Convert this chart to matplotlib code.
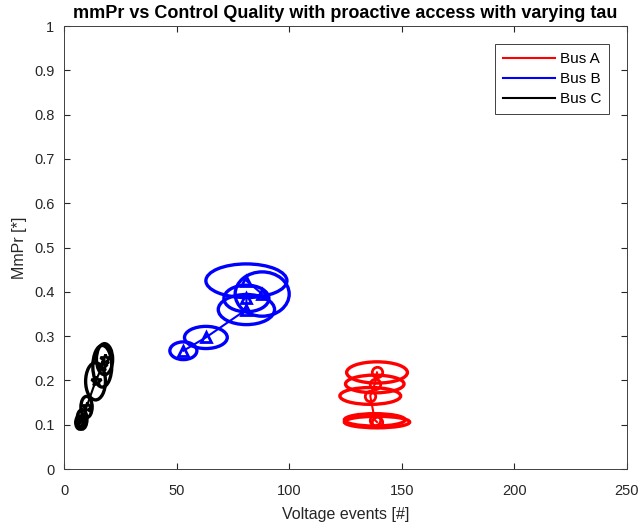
import numpy as np
import matplotlib.pyplot as plt
from matplotlib.patches import Ellipse
from matplotlib.lines import Line2D

plt.rcParams['font.family'] = ['Liberation Sans', 'DejaVu Sans']

# Bus A (red): mean voltage events, mean mmPr, and spread (half widths)
a_x = [139, 138, 136, 138, 139]
a_y = [0.106, 0.111, 0.165, 0.192, 0.218]
a_sx = [14.5, 13.5, 13.5, 13.0, 13.5]
a_sy = [0.013, 0.014, 0.019, 0.020, 0.024]

# Bus B (blue)
b_x = [53, 63, 81, 81, 88, 81]
b_y = [0.267, 0.297, 0.360, 0.385, 0.395, 0.425]
b_sx = [6.0, 9.5, 12.5, 10.0, 12.0, 18.0]
b_sy = [0.020, 0.025, 0.034, 0.030, 0.050, 0.038]

# Bus C (black)
c_x = [7, 8, 10, 14, 17, 18]
c_y = [0.105, 0.112, 0.140, 0.198, 0.232, 0.248]
c_sx = [1.8, 2.2, 2.5, 4.4, 4.2, 3.6]
c_sy = [0.015, 0.022, 0.024, 0.042, 0.047, 0.035]

series = [
    ("Bus A", a_x, a_y, a_sx, a_sy, "#ff0000", "o"),
    ("Bus B", b_x, b_y, b_sx, b_sy, "#0000ff", "^"),
    ("Bus C", c_x, c_y, c_sx, c_sy, "#000000", "*"),
]

fig = plt.figure(figsize=(6.42, 5.27), dpi=100)
ax = fig.add_axes([0.0997, 0.110, 0.8769, 0.8406])

handles = []
for name, xs, ys, sx, sy, col, mk in series:
    ax.plot(xs, ys, color=col, lw=1.5, marker=mk, ms=7.5, mfc="none", mew=2)
    for x, y, w, h in zip(xs, ys, sx, sy):
        ax.add_patch(Ellipse((x, y), 2 * w, 2 * h, fill=False, ec=col, lw=2.4))
    handles.append(Line2D([], [], color=col, lw=1.5, label=name))

ax.set_xlim(0, 250)
ax.set_ylim(0, 1)
ax.set_xticks(np.arange(0, 251, 50))
ax.set_yticks(np.round(np.arange(0, 1.01, 0.1), 1))
ax.set_yticklabels(["0", "0.1", "0.2", "0.3", "0.4", "0.5", "0.6", "0.7", "0.8", "0.9", "1"])
ax.tick_params(direction="in", labelsize=10.5, colors="#262626", length=4, top=True, right=True,
               labeltop=False, labelright=False)
ax.tick_params(axis="x", pad=11)
ax.tick_params(axis="y", pad=7)
for s in ax.spines.values():
    s.set_color("#404040")
    s.set_linewidth(0.7)

ax.set_xlabel("Voltage events [#]", fontsize=11.5, color="#262626", labelpad=6)
ax.set_ylabel("MmPr [*]", fontsize=11.5, color="#262626", labelpad=5)
ax.set_title("mmPr vs Control Quality with proactive access with varying tau",
             fontsize=13, fontweight="bold", pad=6)

leg = ax.legend(handles=handles, loc="upper right", fontsize=11, fancybox=False,
                edgecolor="#404040", framealpha=1, handlelength=3.4, handletextpad=0.3,
                labelspacing=0.4, borderpad=0.5, borderaxespad=1.2)
leg.get_frame().set_linewidth(0.7)

fig.savefig("out.png", dpi=100)
